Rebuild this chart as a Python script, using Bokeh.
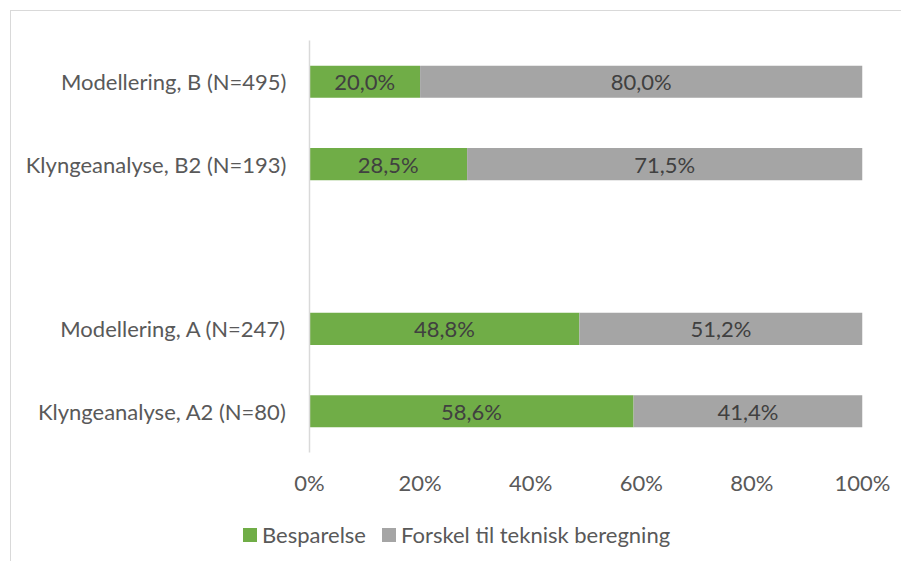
from bokeh.plotting import figure
from bokeh.layouts import column
from bokeh.models import (FactorRange, Range1d, FixedTicker, PrintfTickFormatter,
                          ColumnDataSource, LabelSet, Div)
from bokeh.core.properties import value
from bokeh.embed import file_html
from bokeh.resources import INLINE

categories = ["Klyngeanalyse, A2 (N=80)", "Modellering, A (N=247)", "",
              "Klyngeanalyse, B2 (N=193)", "Modellering, B (N=495)"]
besparelse = [58.6, 48.8, None, 28.5, 20.0]
forskel = [41.4, 51.2, None, 71.5, 80.0]
series_names = ["Besparelse", "Forskel til teknisk beregning"]
x_ticks = [0, 20, 40, 60, 80, 100]

GREEN = "#70AD47"
GRAY = "#A5A5A5"
TXT = "#595959"
FONT = "Lato"
FS = "22px"

cats = [c for c, b in zip(categories, besparelse) if b is not None]
b_vals = [b for b in besparelse if b is not None]
f_vals = [f for f in forskel if f is not None]

src = ColumnDataSource(dict(
    cat=cats, b=b_vals, f=f_vals,
    b_left=[0] * len(cats), b_right=b_vals,
    f_left=b_vals, f_right=[b + f for b, f in zip(b_vals, f_vals)],
    b_mid=[b / 2 for b in b_vals],
    f_mid=[b + f / 2 for b, f in zip(b_vals, f_vals)],
    b_lab=[f"{b:.1f}%".replace(".", ",") for b in b_vals],
    f_lab=[f"{f:.1f}%".replace(".", ",") for f in f_vals],
))

p = figure(width=890, height=500, y_range=FactorRange(*categories),
           x_range=Range1d(0, 100), output_backend="svg", toolbar_location=None,
           min_border_left=298, min_border_right=39, min_border_top=29,
           min_border_bottom=59)
p.outline_line_color = None
p.xgrid.grid_line_color = None
p.ygrid.grid_line_color = None

r1 = p.hbar(y="cat", left="b_left", right="b_right", height=0.39, source=src,
            fill_color=GREEN, line_color=None)
r2 = p.hbar(y="cat", left="f_left", right="f_right", height=0.39, source=src,
            fill_color=GRAY, line_color=None)

for xcol, tcol in (("b_mid", "b_lab"), ("f_mid", "f_lab")):
    p.add_layout(LabelSet(x=xcol, y="cat", text=tcol, source=src,
                          text_align="center", text_baseline="middle",
                          text_font=value(FONT), text_font_size=FS,
                          text_color="#404040"))

p.xaxis.ticker = FixedTicker(ticks=x_ticks)
p.xaxis.formatter = PrintfTickFormatter(format="%d%%")
p.xaxis.axis_line_color = None
p.xaxis.major_tick_line_color = None
p.xaxis.minor_tick_line_color = None
p.xaxis.major_label_standoff = 10
p.xaxis.major_label_text_font = FONT
p.xaxis.major_label_text_font_size = FS
p.xaxis.major_label_text_color = TXT

p.yaxis.axis_line_color = "#D9D9D9"
p.yaxis.axis_line_width = 1.5
p.yaxis.major_tick_line_color = None
p.yaxis.minor_tick_line_color = None
p.yaxis.major_label_standoff = 17
p.yaxis.major_label_text_font = FONT
p.yaxis.major_label_text_font_size = FS
p.yaxis.major_label_text_color = TXT

# legend strip below the chart
items_html = "".join(
    f'<span style="display:inline-flex;align-items:center;margin-right:16px;">'
    f'<span style="display:inline-block;width:14px;height:14px;background:{c};'
    f'margin-right:5px;"></span>{name}</span>'
    for name, c in zip(series_names, [GREEN, GRAY]))
legend_div = Div(
    text=f'<div style="font-family:{FONT};font-size:{FS};color:{TXT};'
         f'line-height:26px;white-space:nowrap;padding-left:232px;padding-top:10px;">'
         f'{items_html}</div>',
    width=890, height=50, margin=0)

layout = column(p, legend_div, spacing=0,
                styles={"margin-left": "10px", "margin-top": "10px",
                        "border-left": "1px solid #D9D9D9",
                        "border-top": "1px solid #D9D9D9"})

open("out.html", "w").write(file_html(layout, INLINE))
